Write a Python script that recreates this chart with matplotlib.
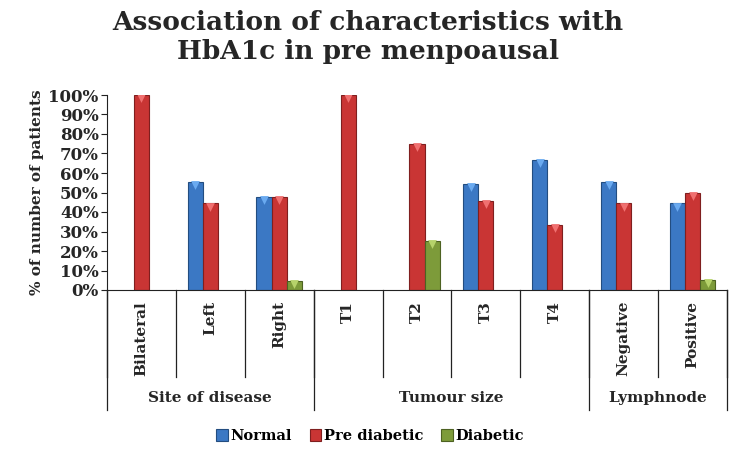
import matplotlib
matplotlib.use("Agg")
import matplotlib.pyplot as plt
import matplotlib.transforms as mtransforms
from matplotlib.ticker import FuncFormatter
from matplotlib.patches import Patch
import numpy as np

categories = ["Bilateral", "Left", "Right", "T1", "T2", "T3", "T4", "Negative", "Positive"]
groups = ["Site of disease", "Tumour size", "Lymphnode"]
group_sizes = [3, 4, 2]
series_names = ["Normal", "Pre diabetic", "Diabetic"]
normal = [0, 55.6, 47.6, 0, 0, 54.5, 66.7, 55.6, 44.4]
pre_diabetic = [100, 44.4, 47.6, 100, 75.0, 45.5, 33.3, 44.4, 50.0]
diabetic = [0, 0, 4.8, 0, 25.0, 0, 0, 0, 5.0]
yticks = [0, 10, 20, 30, 40, 50, 60, 70, 80, 90, 100]

colors = ["#3b78c4", "#c93534", "#7d9b3a"]
edges = ["#234d80", "#7f1f1f", "#4d6222"]
lights = ["#6aaaf0", "#f07070", "#b6d36a"]

FONT = "DejaVu Serif"
W, H = 739, 451
fig = plt.figure(figsize=(W / 100, H / 100), dpi=100)
x0, x1, ytop, ybot = 107, 727, 95, 290
ax = fig.add_axes([x0 / W, 1 - ybot / H, (x1 - x0) / W, (ybot - ytop) / H])

x = np.arange(len(categories))
bw = 0.22
data = [normal, pre_diabetic, diabetic]
for i, (vals, c, e, l) in enumerate(zip(data, colors, edges, lights)):
    pos = x + (i - 1) * bw
    v = np.array(vals, dtype=float)
    mask = v > 0
    ax.bar(pos[mask], v[mask], width=bw, color=c, edgecolor=e, linewidth=0.8, zorder=2)
    ax.scatter(pos[mask], v[mask] - 1.6, marker="v", s=40, color=l, zorder=3, linewidths=0)

ax.set_xlim(-0.5, len(categories) - 0.5)
ax.set_ylim(0, 100)
ax.set_yticks(yticks)
ax.yaxis.set_major_formatter(FuncFormatter(lambda v, p: f"{int(v)}%"))
ax.set_xticks([])
for s in ["top", "right"]:
    ax.spines[s].set_visible(False)
ax.spines["left"].set_color("#222222")
ax.spines["bottom"].set_color("#222222")
ax.tick_params(axis="y", length=4, width=0.8, color="#222222", labelsize=12, pad=2)
for t in ax.get_yticklabels():
    t.set_fontfamily(FONT)
    t.set_fontweight("bold")
    t.set_color("#262626")

ax.set_ylabel("% of number of patients", fontsize=11, fontweight="bold", family=FONT, color="#262626", labelpad=3)

# category table lines
trans = mtransforms.blended_transform_factory(ax.transData, fig.transFigure)
y0f = 1 - ybot / H
ycat = 1 - 377 / H
ygrp = 1 - 410 / H
for b in np.arange(-0.5, len(categories), 1.0):
    ax.plot([b, b], [y0f, ycat], transform=trans, color="#222222", lw=0.9, clip_on=False)
bounds = np.concatenate([[0], np.cumsum(group_sizes)]) - 0.5
for b in bounds:
    ax.plot([b, b], [y0f, ygrp], transform=trans, color="#222222", lw=0.9, clip_on=False)

for xi, name in zip(x, categories):
    fig.text(xi, 1 - 301 / H, name, transform=trans, rotation=90, ha="center", va="top",
             fontsize=11, fontweight="bold", family=FONT, color="#262626")
for gi, g in enumerate(groups):
    cx = (bounds[gi] + bounds[gi + 1]) / 2
    fig.text(cx, 1 - 398 / H, g, transform=trans, ha="center", va="center",
             fontsize=11, fontweight="bold", family=FONT, color="#262626")

# legend
handles = [Patch(facecolor=c, edgecolor=e, linewidth=0.8) for c, e in zip(colors, edges)]
fig.legend(handles, series_names, loc="center", bbox_to_anchor=(370 / W, 1 - 436 / H), ncol=3,
           frameon=False, handlelength=0.8, handleheight=0.8, handletextpad=0.2, columnspacing=1.2,
           prop={"family": FONT, "weight": "bold", "size": 10.5})

fig.text(368 / W, 1 - 37 / H, "Association of characteristics with\nHbA1c in pre menpoausal",
         ha="center", va="center", fontsize=19, fontweight="bold", family=FONT, color="#262626",
         linespacing=1.2)

fig.savefig("out.png", dpi=100)
